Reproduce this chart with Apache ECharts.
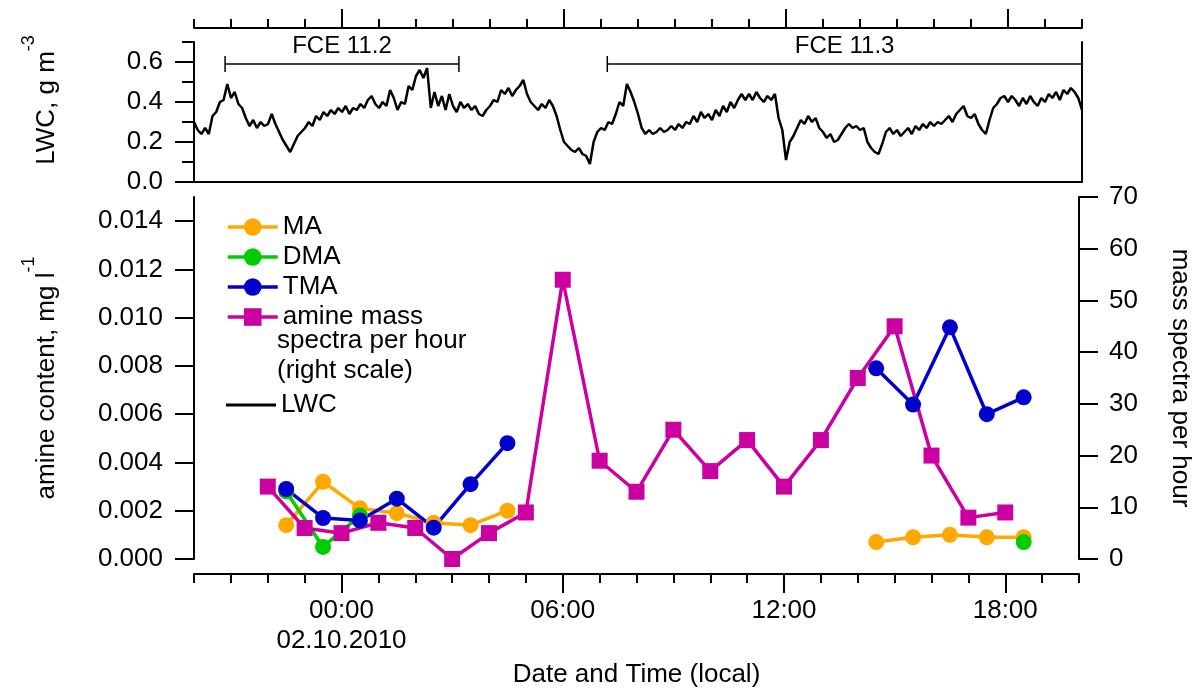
<!DOCTYPE html>
<html>
<head>
<meta charset="utf-8">
<script src="https://cdn.jsdelivr.net/npm/echarts@6/dist/echarts.min.js"></script>
<style>
  * { margin: 0; padding: 0; }
  #main { width: 1201px; height: 693px; }
</style>
</head>
<body>
<div id="main"></div>
<script>
// hours relative to 02.10.2010 00:00 (local)
var maHours = [-1.5, -0.5, 0.5, 1.5, 2.5, 3.5, 4.5, 14.5, 15.5, 16.5, 17.5, 18.5];
var maValues = [0.0014, 0.0032, 0.0021, 0.0019, 0.0015, 0.0014, 0.0020, 0.0007, 0.0009, 0.0010, 0.0009, 0.0009];
var dmaHours = [-1.5, -0.5, 0.5, 18.5];
var dmaValues = [0.0028, 0.0005, 0.0018, 0.0007];
var tmaHours = [-1.5, -0.5, 0.5, 1.5, 2.5, 3.5, 4.5, 14.5, 15.5, 16.5, 17.5, 18.5];
var tmaValues = [0.0029, 0.0017, 0.0016, 0.0025, 0.0013, 0.0031, 0.0048, 0.0079, 0.0064, 0.0096, 0.0060, 0.0067];
var specHours = [-2, -1, 0, 1, 2, 3, 4, 5, 6, 7, 8, 9, 10, 11, 12, 13, 14, 15, 16, 17, 18];
var specValues = [14, 6, 5, 7, 6, 0, 5, 9, 54, 19, 13, 25, 17, 23, 14, 23, 35, 45, 20, 8, 9];

// LWC every 0.1 h starting at -4 h
var lwcStart = -4, lwcStep = 0.1;
var lwcValues = [
  0.30, 0.26, 0.24, 0.27, 0.24, 0.33, 0.35, 0.40, 0.41, 0.49,
  0.42, 0.45, 0.39, 0.37, 0.32, 0.28, 0.31, 0.27, 0.30, 0.28,
  0.29, 0.34, 0.29, 0.25, 0.21, 0.18, 0.15, 0.19, 0.23, 0.25,
  0.27, 0.30, 0.28, 0.33, 0.31, 0.35, 0.33, 0.36, 0.34, 0.37,
  0.35, 0.38, 0.34, 0.37, 0.36, 0.39, 0.37, 0.41, 0.43, 0.39,
  0.37, 0.40, 0.38, 0.46, 0.42, 0.36, 0.40, 0.39, 0.48, 0.46,
  0.53, 0.56, 0.52, 0.57, 0.37, 0.45, 0.38, 0.43, 0.36, 0.44,
  0.38, 0.35, 0.40, 0.37, 0.39, 0.36, 0.38, 0.34, 0.33, 0.36,
  0.38, 0.41, 0.40, 0.46, 0.44, 0.47, 0.43, 0.46, 0.48, 0.51,
  0.44, 0.40, 0.38, 0.36, 0.39, 0.37, 0.41, 0.38, 0.33, 0.26,
  0.20, 0.18, 0.16, 0.15, 0.17, 0.14, 0.13, 0.09, 0.20, 0.25,
  0.27, 0.26, 0.30, 0.29, 0.34, 0.40, 0.38, 0.49, 0.45, 0.40,
  0.34, 0.27, 0.24, 0.26, 0.24, 0.25, 0.27, 0.25, 0.26, 0.28,
  0.26, 0.29, 0.27, 0.30, 0.29, 0.33, 0.30, 0.35, 0.32, 0.34,
  0.31, 0.36, 0.33, 0.38, 0.35, 0.40, 0.37, 0.41, 0.44, 0.41,
  0.44, 0.41, 0.45, 0.42, 0.40, 0.43, 0.41, 0.44, 0.32, 0.26,
  0.11, 0.20, 0.23, 0.27, 0.31, 0.29, 0.33, 0.30, 0.32, 0.27,
  0.25, 0.22, 0.24, 0.20, 0.21, 0.24, 0.27, 0.29, 0.27, 0.28,
  0.26, 0.27, 0.20, 0.17, 0.15, 0.14, 0.19, 0.25, 0.27, 0.24,
  0.26, 0.23, 0.25, 0.27, 0.24, 0.28, 0.26, 0.29, 0.27, 0.30,
  0.28, 0.30, 0.29, 0.31, 0.33, 0.30, 0.34, 0.36, 0.38, 0.33,
  0.32, 0.34, 0.29, 0.26, 0.24, 0.31, 0.37, 0.39, 0.42, 0.43,
  0.40, 0.43, 0.41, 0.38, 0.42, 0.39, 0.43, 0.40, 0.38, 0.42,
  0.40, 0.44, 0.42, 0.45, 0.41, 0.46, 0.44, 0.47, 0.45, 0.42, 0.36
];

// cloud events (FCE) shown as brackets in the LWC panel
var fceNames = ['FCE 11.2', 'FCE 11.3'];
var fceFrom = [-3.16, 7.17];
var fceTo = [3.16, 20];
var fceLevel = 0.59;

var majorHours = [0, 6, 12, 18];
var lwcTicks = [0, 0.2, 0.4, 0.6];
var amineTicks = [0, 0.002, 0.004, 0.006, 0.008, 0.010, 0.012, 0.014];

var SPEC = 'amine mass spectra per hour (right scale)';
var FONT = 'Liberation Sans, Arial, sans-serif';

function pairs(hours, values) {
    var out = [];
    for (var i = 0; i < hours.length; i++) {
        // break the line where a sampling gap occurs
        if (i > 0 && hours[i] - hours[i - 1] > 1.5) {
            out.push([(hours[i] + hours[i - 1]) / 2, null]);
        }
        out.push([hours[i], values[i]]);
    }
    return out;
}

var lwcData = lwcValues.map(function (v, i) {
    return [lwcStart + i * lwcStep, v];
});

var lineStyle = { color: '#000', width: 2 };
var tickStyle = { color: '#000', width: 2 };
var labelStyle = { color: '#000', fontSize: 26, fontFamily: FONT };

function axLine(show) {
    return { show: show, onZero: false, lineStyle: lineStyle };
}

function hourLabel(v) {
    var h = (v < 10 ? '0' : '') + v + ':00';
    return v === 0 ? h + '\n02.10.2010' : h;
}

var supRich = {
    n: { fontSize: 26, fontFamily: FONT, color: '#000', lineHeight: 40, verticalAlign: 'bottom' },
    s: { fontSize: 18, fontFamily: FONT, color: '#000', verticalAlign: 'top' }
};

var myChart = echarts.init(document.getElementById('main'));

var option = {
    backgroundColor: '#fff',
    animation: false,
    textStyle: { fontFamily: FONT },
    grid: [
        { left: 194, top: 42, width: 888, height: 140 },
        { left: 194, top: 197, width: 888, height: 363 }
    ],
    xAxis: [
        // 0: bottom border of LWC panel
        { type: 'value', gridIndex: 0, min: -4, max: 20, position: 'bottom',
          axisLine: axLine(true), axisTick: { show: false },
          axisLabel: { show: false }, splitLine: { show: false } },
        // 1: hourly ticks on top
        { type: 'value', gridIndex: 0, min: -4, max: 20, interval: 1, position: 'top', offset: 14,
          axisLine: axLine(true), axisTick: { length: 9, lineStyle: tickStyle },
          axisLabel: { show: false }, splitLine: { show: false } },
        // 2: 6-hourly long ticks on top
        { type: 'value', gridIndex: 0, min: -4, max: 20, position: 'top', offset: 14,
          axisLine: axLine(false),
          axisTick: { length: 19, lineStyle: tickStyle, customValues: majorHours },
          axisLabel: { show: false }, splitLine: { show: false } },
        // 3: hourly ticks at bottom
        { type: 'value', gridIndex: 1, min: -4, max: 20, interval: 1, position: 'bottom', offset: 15,
          axisLine: axLine(true), axisTick: { length: 9, lineStyle: tickStyle },
          axisLabel: { show: false }, splitLine: { show: false } },
        // 4: 6-hourly ticks + labels at bottom
        { type: 'value', gridIndex: 1, min: -4, max: 20, position: 'bottom', offset: 15,
          axisLine: axLine(false),
          axisTick: { length: 19, lineStyle: tickStyle, customValues: majorHours },
          axisLabel: Object.assign({ customValues: majorHours, margin: 22, lineHeight: 30,
                                     formatter: hourLabel }, labelStyle),
          splitLine: { show: false },
          name: 'Date and Time (local)', nameLocation: 'middle', nameGap: 88,
          nameTextStyle: labelStyle }
    ],
    yAxis: [
        // 0: LWC
        { type: 'value', gridIndex: 0, min: 0, max: 0.7, interval: 0.1, position: 'left',
          axisLine: axLine(true),
          axisTick: { show: true, length: 12, lineStyle: tickStyle },
          axisLabel: Object.assign({ margin: 31, formatter: function (v) {
              var k = Math.round(v * 10);
              return (k % 2 === 0 && k < 7) ? v.toFixed(1) : '';
          } }, labelStyle),
          splitLine: { show: false },
          name: '{n|LWC, g m}{s|-3}', nameLocation: 'middle', nameGap: 134,
          nameTextStyle: { color: '#000', fontSize: 26, fontFamily: FONT, rich: supRich,
                           padding: [0, 0, 0, 24] } },
        // 1: LWC major ticks
        { type: 'value', gridIndex: 0, min: 0, max: 0.7, position: 'left',
          axisLine: axLine(false),
          axisTick: { show: true, length: 19, lineStyle: tickStyle, customValues: lwcTicks },
          axisLabel: { show: false }, splitLine: { show: false } },
        // 2: right border of LWC panel
        { type: 'value', gridIndex: 0, min: 0, max: 0.7, position: 'right',
          axisLine: axLine(true), axisTick: { show: false },
          axisLabel: { show: false }, splitLine: { show: false } },
        // 3: amine content
        { type: 'value', gridIndex: 1, min: 0, max: 0.015, position: 'left',
          axisLine: axLine(true),
          axisTick: { show: true, length: 19, lineStyle: tickStyle, customValues: amineTicks },
          axisLabel: Object.assign({ margin: 31, customValues: amineTicks,
              formatter: function (v) { return v.toFixed(3); } }, labelStyle),
          splitLine: { show: false },
          name: '{n|amine content, mg l}{s|-1}', nameLocation: 'middle', nameGap: 134,
          nameTextStyle: { color: '#000', fontSize: 26, fontFamily: FONT, rich: supRich } },
        // 4: mass spectra per hour
        { type: 'value', gridIndex: 1, min: 0, max: 70, interval: 10, position: 'right',
          axisLine: axLine(true),
          axisTick: { show: true, length: 19, lineStyle: tickStyle },
          axisLabel: Object.assign({ margin: 30 }, labelStyle),
          splitLine: { show: false },
          name: 'mass spectra per hour', nameLocation: 'middle', nameGap: 88, nameRotate: -90,
          nameTextStyle: labelStyle }
    ],
    legend: [
        { orient: 'vertical', left: 221, top: 207, itemWidth: 50, itemHeight: 22, itemGap: 0,
          data: ['MA', 'DMA', 'TMA', SPEC],
          lineStyle: { width: 3.5 },
          formatter: function (name) { return name === SPEC ? 'amine mass' : name; },
          textStyle: { color: '#000', fontSize: 26, lineHeight: 30, fontFamily: FONT } },
        { orient: 'vertical', left: 221, top: 385, itemWidth: 50, itemHeight: 3, itemGap: 0,
          icon: 'rect', data: ['LWC'],
          textStyle: { color: '#000', fontSize: 26, lineHeight: 30, fontFamily: FONT } }
    ],
    graphic: [
        { type: 'text', left: 277, top: 326, silent: true,
          style: { text: 'spectra per hour\n(right scale)', fill: '#000',
                   font: '26px ' + FONT, lineHeight: 30 } }
    ],
    series: [
        { name: 'LWC', type: 'line', xAxisIndex: 0, yAxisIndex: 0, data: lwcData,
          showSymbol: false, symbol: 'none', color: '#000',
          lineStyle: { color: '#000', width: 2.5 } },
        { type: 'custom', xAxisIndex: 0, yAxisIndex: 0, silent: true,
          data: fceNames.map(function (n, i) { return [fceFrom[i], fceTo[i], fceLevel]; }),
          renderItem: function (params, api) {
              var a = api.coord([api.value(0), api.value(2)]);
              var b = api.coord([api.value(1), api.value(2)]);
              var st = { stroke: '#000', lineWidth: 1.5 };
              return { type: 'group', children: [
                  { type: 'line', shape: { x1: a[0], y1: a[1], x2: b[0], y2: b[1] }, style: st },
                  { type: 'line', shape: { x1: a[0], y1: a[1] - 8, x2: a[0], y2: a[1] + 8 }, style: st },
                  { type: 'line', shape: { x1: b[0], y1: b[1] - 8, x2: b[0], y2: b[1] + 8 }, style: st },
                  { type: 'text', x: (a[0] + b[0]) / 2, y: a[1] - 18,
                    style: { text: fceNames[params.dataIndex], fill: '#000', font: '24px ' + FONT,
                             align: 'center', verticalAlign: 'middle' } }
              ] };
          } },
        { name: 'MA', type: 'line', xAxisIndex: 3, yAxisIndex: 3, data: pairs(maHours, maValues),
          symbol: 'circle', symbolSize: 16, color: '#FFA800',
          lineStyle: { width: 3.5 }, connectNulls: false },
        { name: 'DMA', type: 'line', xAxisIndex: 3, yAxisIndex: 3, data: pairs(dmaHours, dmaValues),
          symbol: 'circle', symbolSize: 16, color: '#00CC00',
          lineStyle: { width: 3.5 }, connectNulls: false },
        { name: 'TMA', type: 'line', xAxisIndex: 3, yAxisIndex: 3, data: pairs(tmaHours, tmaValues),
          symbol: 'circle', symbolSize: 16, color: '#0000CC',
          lineStyle: { width: 3.5 }, connectNulls: false },
        { name: SPEC, type: 'line', xAxisIndex: 3, yAxisIndex: 4, data: pairs(specHours, specValues),
          symbol: 'rect', symbolSize: 16, color: '#CC00A0',
          lineStyle: { width: 3.5 } }
    ]
};

myChart.setOption(option);
</script>
</body>
</html>
